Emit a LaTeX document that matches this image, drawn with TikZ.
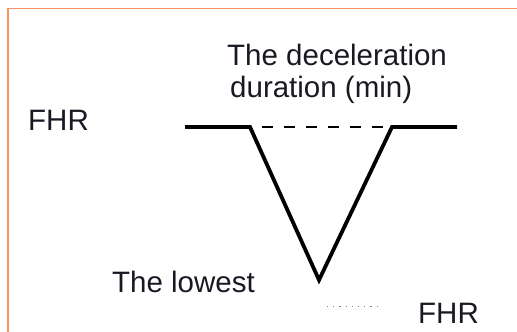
\documentclass[tikz,border=0pt]{standalone}
\usepackage{fontspec}
\setmainfont{Liberation Sans}
\definecolor{frameorange}{RGB}{246,146,96}
\definecolor{txt}{RGB}{25,25,35}
\begin{document}
\begin{tikzpicture}[x=1pt,y=-1pt,
  lbl/.style={inner sep=0pt,anchor=base west,text=txt,font=\fontsize{29.5}{34}\selectfont},
  curve/.style={line width=3.8pt,line join=miter},
  base/.style={line width=2.8pt,dash pattern=on 11pt off 11pt}]
\useasboundingbox (0,0) rectangle (517,332);
\draw[frameorange,line width=1.6pt] (8,332) -- (8,8.5) -- (517,8.5);
\coordinate (l0) at (185,127);
\coordinate (l1) at (250,127);
\coordinate (v) at (319,280);
\coordinate (r1) at (392,127);
\coordinate (r0) at (457,127);
\draw[curve] (l0) -- (l1) -- (v) -- (r1) -- (r0);
\draw[base] (l1) ++(12,0) -- ([xshift=-4pt]r1);
\coordinate (d0) at (327,306);
\coordinate (d1) at (382,306);
\draw[gray,line width=1pt,dash pattern=on 1.2pt off 5pt] (d0) -- (d1);
\node[lbl] (t1) at (227,65) {The deceleration};
\node[lbl] (t2) at (230,97) {duration (min)};
\node[lbl] (fhr1) at (28,130) {FHR};
\node[lbl] (low) at (112,292) {The lowest};
\node[lbl] (fhr2) at (418,323) {FHR};
\end{tikzpicture}
\end{document}
